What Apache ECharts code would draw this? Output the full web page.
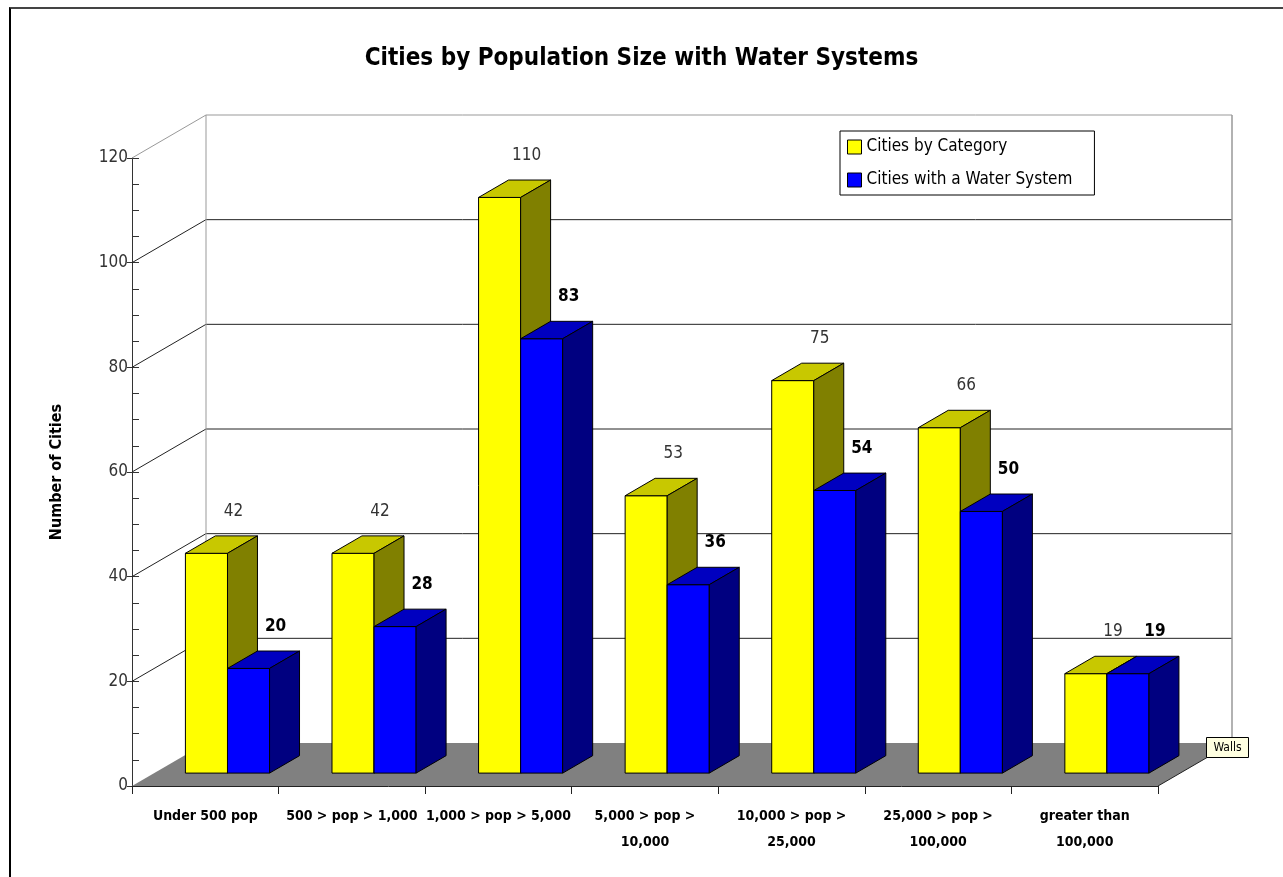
<!DOCTYPE html>
<html>
<head>
<meta charset="utf-8">
<title>Cities by Population Size with Water Systems</title>
<script src="https://cdn.jsdelivr.net/npm/echarts@6/dist/echarts.min.js"></script>
<style>
  html, body { margin: 0; padding: 0; background: #fff; overflow: hidden; }
  #chart { width: 1283px; height: 877px; }
  #frame { position: absolute; left: 9px; top: 7px; width: 1280px; height: 880px;
           border-left: 2px solid #000; border-top: 2px solid #444; pointer-events: none; }
</style>
</head>
<body>
<div id="chart"></div>
<div id="frame"></div>
<script>
const categories = [
  'Under 500 pop',
  '500 > pop > 1,000',
  '1,000 > pop > 5,000',
  '5,000 > pop >\n10,000',
  '10,000 > pop >\n25,000',
  '25,000 > pop >\n100,000',
  'greater than\n100,000'
]
const cityCounts = [42, 42, 110, 53, 75, 66, 19]
const waterCounts = [20, 28, 83, 36, 54, 50, 19]
const yTicks = [0, 20, 40, 60, 80, 100, 120]
const seriesNames = ['Cities by Category', 'Cities with a Water System']

const FONT = "'Liberation Sans Narrow', 'Arial Narrow', 'DejaVu Sans Condensed', sans-serif"
// depth of the 3d box (back wall offset from the front plane)
const DEPTH_X = 74
const DEPTH_Y = -43

const faces = [
  { front: '#FFFF00', top: '#C8C800', side: '#808000', labelWeight: 'normal', labelColor: '#333' },
  { front: '#0000FF', top: '#0000C0', side: '#000080', labelWeight: 'bold', labelColor: '#000' }
]

// walls, floor and grid lines
function wallRenderer (params, api) {
  const cs = params.coordSys
  const v = api.value(1)
  const y = api.coord([0, v])[1]
  const left = cs.x
  const right = cs.x + cs.width
  const children = []
  if (v === 0) {
    children.push({
      type: 'polygon',
      shape: { points: [[left, y], [right, y], [right + DEPTH_X, y + DEPTH_Y], [left + DEPTH_X, y + DEPTH_Y]] },
      style: { fill: '#808080', stroke: null }
    })
    children.push({
      type: 'line',
      shape: { x1: right, y1: y, x2: right + DEPTH_X, y2: y + DEPTH_Y },
      style: { stroke: '#222', lineWidth: 1 }
    })
    return { type: 'group', children: children }
  }
  const isTop = v === yTicks[yTicks.length - 1]
  const col = isTop ? '#999' : '#222'
  children.push({
    type: 'line',
    shape: { x1: left, y1: y, x2: left + DEPTH_X, y2: y + DEPTH_Y },
    style: { stroke: col, lineWidth: 1 }
  })
  children.push({
    type: 'line',
    shape: { x1: left + DEPTH_X, y1: y + DEPTH_Y, x2: right + DEPTH_X, y2: y + DEPTH_Y },
    style: { stroke: col, lineWidth: 1 }
  })
  if (isTop) {
    const y0 = api.coord([0, 0])[1]
    children.push({
      type: 'line',
      shape: { x1: left + DEPTH_X, y1: y + DEPTH_Y, x2: left + DEPTH_X, y2: y0 + DEPTH_Y },
      style: { stroke: '#999', lineWidth: 1 }
    })
    children.push({
      type: 'line',
      shape: { x1: right + DEPTH_X, y1: y + DEPTH_Y, x2: right + DEPTH_X, y2: y0 + DEPTH_Y },
      style: { stroke: '#999', lineWidth: 1.5 }
    })
  }
  return { type: 'group', children: children }
}

function barRenderer (idx) {
  const f = faces[idx]
  return function (params, api) {
    const cat = api.value(0)
    const v = api.value(1)
    const base = api.coord([cat, 0])
    const top = api.coord([cat, v])
    const band = api.size([1, 0])[0]
    const w = band * 0.287
    const x0 = base[0] + DEPTH_X * 0.3 + (idx === 0 ? -w : 0)
    const by = base[1] + DEPTH_Y * 0.3
    const ty = top[1] + DEPTH_Y * 0.3
    const sx = DEPTH_X * 0.405
    const sy = DEPTH_Y * 0.405
    const edge = { stroke: '#000', lineWidth: 1 }
    return {
      type: 'group',
      children: [
        { type: 'rect', shape: { x: x0, y: ty, width: w, height: by - ty }, style: Object.assign({ fill: f.front }, edge) },
        { type: 'polygon', shape: { points: [[x0, ty], [x0 + w, ty], [x0 + w + sx, ty + sy], [x0 + sx, ty + sy]] }, style: Object.assign({ fill: f.top }, edge) },
        { type: 'polygon', shape: { points: [[x0 + w, ty], [x0 + w + sx, ty + sy], [x0 + w + sx, by + sy], [x0 + w, by]] }, style: Object.assign({ fill: f.side }, edge) },
        {
          type: 'text',
          style: {
            text: String(v), x: x0 + w / 2 + 27, y: ty - 42,
            align: 'center', verticalAlign: 'middle',
            fontSize: 17, fontFamily: FONT, fontWeight: f.labelWeight, fill: f.labelColor
          }
        }
      ]
    }
  }
}

const chart = echarts.init(document.getElementById('chart'))
const option = {
  animation: false,
  backgroundColor: '#fff',
  title: {
    text: 'Cities by Population Size with Water Systems',
    left: 'center',
    top: 42,
    textStyle: { fontFamily: FONT, fontSize: 24, fontWeight: 'bold', color: '#000' }
  },
  legend: {
    orient: 'vertical',
    left: 840,
    top: 131,
    data: seriesNames,
    icon: 'rect',
    itemWidth: 14,
    itemHeight: 14,
    itemGap: 13,
    padding: [6, 22, 5, 7],
    borderColor: '#000',
    borderWidth: 1,
    itemStyle: { borderColor: '#000', borderWidth: 1 },
    textStyle: { fontFamily: FONT, fontSize: 17, lineHeight: 20, color: '#000' }
  },
  grid: { left: 132, right: 125, top: 158, bottom: 91 },
  xAxis: {
    type: 'category',
    data: categories,
    z: 10,
    axisLine: { lineStyle: { color: '#222', width: 1 } },
    axisTick: { show: true, length: 8, lineStyle: { color: '#222' } },
    axisLabel: {
      interval: 0, margin: 17, fontFamily: FONT, fontSize: 14, fontWeight: 'bold',
      lineHeight: 26, color: '#000'
    },
    splitLine: { show: false }
  },
  yAxis: [{
    type: 'value',
    min: 0,
    max: 120,
    interval: 20,
    name: 'Number of Cities',
    nameLocation: 'middle',
    nameRotate: 90,
    nameGap: 67,
    nameTextStyle: { fontFamily: FONT, fontSize: 16, fontWeight: 'bold', color: '#000' },
    axisLine: { show: true, lineStyle: { color: '#333' } },
    axisTick: { show: true, inside: true, length: 7, lineStyle: { color: '#333' } },
    minorTick: { show: true, splitNumber: 4, length: 7, lineStyle: { color: '#333' } },
    axisLabel: { margin: 4, fontFamily: FONT, fontSize: 17, color: '#333' },
    splitLine: { show: false }
  }, {
    type: 'value',
    position: 'left',
    offset: 0,
    min: 0,
    max: 120,
    interval: 20,
    axisLine: { show: false },
    axisTick: { show: true, inside: false, length: 5, lineStyle: { color: '#333' } },
    axisLabel: { show: false },
    splitLine: { show: false }
  }],
  graphic: [{
    type: 'group',
    left: 1206,
    top: 737,
    z: 100,
    children: [
      { type: 'rect', z: 100, shape: { x: 0, y: 0, width: 42, height: 20 }, style: { fill: '#FFFFE1', stroke: '#000', lineWidth: 1 } },
      { type: 'text', z: 101, style: { text: 'Walls', x: 21, y: 10, align: 'center', verticalAlign: 'middle', fontSize: 12, fontFamily: FONT, fill: '#000' } }
    ]
  }],
  series: [{
    type: 'custom',
    name: 'walls',
    renderItem: wallRenderer,
    data: yTicks.map(v => [0, v]),
    silent: true,
    z: 1
  }, {
    type: 'custom',
    name: seriesNames[0],
    itemStyle: { color: faces[0].front },
    renderItem: barRenderer(0),
    data: cityCounts.map((v, i) => [i, v]),
    z: 3
  }, {
    type: 'custom',
    name: seriesNames[1],
    itemStyle: { color: faces[1].front },
    renderItem: barRenderer(1),
    data: waterCounts.map((v, i) => [i, v]),
    z: 4
  }]
}
chart.setOption(option)
</script>
</body>
</html>
